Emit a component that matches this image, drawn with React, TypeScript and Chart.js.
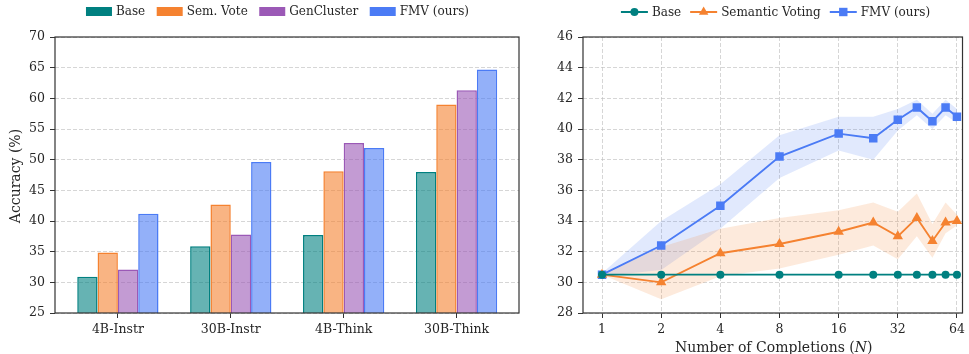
import React, { useEffect, useRef } from 'react';
import { Chart, registerables } from 'chart.js';

Chart.register(...registerables);

// ---------- data: left (bar) chart ----------
const groups = ['4B-Instr', '30B-Instr', '4B-Think', '30B-Think'];
const barBase = [30.9, 35.9, 37.7, 48.0];
const barSemVote = [34.85, 42.7, 48.1, 59.0];
const barGenCluster = [32.1, 37.8, 52.7, 61.3];
const barFMV = [41.2, 49.6, 51.9, 64.7];
const barTicks = [25, 30, 35, 40, 45, 50, 55, 60, 65, 70];

// ---------- data: right (line) chart ----------
const completions = [1, 2, 4, 8, 16, 24, 32, 40, 48, 56, 64];
const nTicks = [1, 2, 4, 8, 16, 32, 64];
const lineTicks = [28, 30, 32, 34, 36, 38, 40, 42, 44, 46];
const lineBase = [30.5, 30.5, 30.5, 30.5, 30.5, 30.5, 30.5, 30.5, 30.5, 30.5, 30.5];
const lineSemantic = [30.5, 30.0, 31.9, 32.5, 33.3, 33.9, 33.0, 34.2, 32.7, 33.9, 34.0];
const semanticUpper = [30.5, 32.3, 33.5, 34.2, 34.7, 35.2, 34.6, 35.8, 33.8, 35.2, 34.4];
const semanticLower = [30.5, 28.9, 30.4, 30.9, 31.8, 32.4, 31.5, 33.0, 31.6, 33.2, 33.7];
const lineFMV = [30.5, 32.4, 35.0, 38.2, 39.7, 39.4, 40.6, 41.4, 40.5, 41.4, 40.8];
const fmvUpper = [30.6, 34.0, 36.4, 39.6, 40.8, 40.8, 41.3, 41.9, 41.0, 41.9, 41.3];
const fmvLower = [30.4, 30.8, 33.5, 36.8, 38.6, 38.0, 39.9, 40.9, 40.0, 40.9, 40.4];

// ---------- styles ----------
const FONT = "'DejaVu Serif', serif";
const TEXT = '#262626';
const AXIS = '#333333';
const GRID = 'rgba(190,190,190,0.8)';
const TEAL = '#008080';
const ORANGE = '#F58230';
const PURPLE = '#9B59B6';
const BLUE = '#4B7BF5';
const TICK_SIZE = 12.5;

function rgba(hex: string, a: number) {
  const n = parseInt(hex.slice(1), 16);
  return `rgba(${(n >> 16) & 255},${(n >> 8) & 255},${n & 255},${a})`;
}

const framePlugin = {
  id: 'frame',
  afterDatasetsDraw(chart: any) {
    const { ctx, chartArea: a } = chart;
    ctx.save();
    ctx.strokeStyle = AXIS;
    ctx.lineWidth = 1.2;
    ctx.strokeRect(a.left, a.top, a.right - a.left, a.bottom - a.top);
    ctx.restore();
  },
};

function drawMarker(ctx: CanvasRenderingContext2D, kind: string, x: number, y: number, color: string) {
  ctx.fillStyle = color;
  ctx.beginPath();
  if (kind === 'circle') {
    ctx.arc(x, y, 4, 0, Math.PI * 2);
  } else if (kind === 'triangle') {
    const r = 5.5;
    ctx.moveTo(x, y - r);
    ctx.lineTo(x + r * 0.866, y + r * 0.5);
    ctx.lineTo(x - r * 0.866, y + r * 0.5);
    ctx.closePath();
  } else {
    ctx.rect(x - 4.2, y - 4.2, 8.4, 8.4);
  }
  ctx.fill();
}

const dashedGrid = {
  color: GRID,
  lineWidth: 0.8,
  tickLength: 5,
  tickColor: AXIS,
  tickWidth: 1,
  tickBorderDash: [],
};
const dashedBorder = { display: false, dash: [4, 2] };

function BarChart() {
  const ref = useRef<HTMLCanvasElement>(null);
  useEffect(() => {
    const legendPlugin = {
      id: 'barLegend',
      afterDraw(chart: any) {
        const ctx = chart.ctx as CanvasRenderingContext2D;
        const items = [
          ['Base', TEAL],
          ['Sem. Vote', ORANGE],
          ['GenCluster', PURPLE],
          ['FMV (ours)', BLUE],
        ];
        ctx.save();
        ctx.font = `12px ${FONT}`;
        const box = 26, gap = 4, sep = 11.5;
        const widths = items.map(([t]) => ctx.measureText(t).width);
        const total = widths.reduce((s, w) => s + box + gap + w, 0) + sep * (items.length - 1);
        let x = 277.5 - total / 2;
        const cy = 11.5;
        items.forEach(([t, c], i) => {
          ctx.fillStyle = c;
          ctx.fillRect(x, cy - 4.5, box, 9);
          ctx.fillStyle = TEXT;
          ctx.textBaseline = 'middle';
          ctx.textAlign = 'left';
          ctx.fillText(t, x + box + gap, cy + 0.5);
          x += box + gap + widths[i] + sep;
        });
        // y-axis title
        ctx.translate(16, 176);
        ctx.rotate(-Math.PI / 2);
        ctx.font = `14px ${FONT}`;
        ctx.textAlign = 'center';
        ctx.textBaseline = 'middle';
        ctx.fillStyle = TEXT;
        ctx.fillText('Accuracy (%)', 0, 0);
        ctx.restore();
      },
    };

    const mk = (label: string, vals: number[], color: string) => ({
      label,
      data: vals.map((y, i) => ({ x: i, y })),
      backgroundColor: rgba(color, 0.6),
      borderColor: color,
      borderWidth: 1.5,
      borderSkipped: 'bottom',
      categoryPercentage: 0.72,
      barPercentage: 1,
    });

    const chart = new Chart(ref.current as HTMLCanvasElement, {
      type: 'bar',
      data: {
        datasets: [
          mk('Base', barBase, TEAL),
          mk('Sem. Vote', barSemVote, ORANGE),
          mk('GenCluster', barGenCluster, PURPLE),
          mk('FMV (ours)', barFMV, BLUE),
        ] as any,
      },
      options: {
        animation: false,
        responsive: false,
        events: [],
        layout: { padding: { top: 37, right: 21, left: 0, bottom: 0 } },
        plugins: { legend: { display: false }, tooltip: { enabled: false } },
        scales: {
          x: {
            type: 'linear',
            min: -0.557,
            max: 3.553,
            offset: false,
            afterBuildTicks: (s: any) => {
              s.ticks = groups.map((_, i) => ({ value: i }));
            },
            afterFit: (s: any) => {
              s.height = 41;
            },
            ticks: {
              autoSkip: false,
              maxRotation: 0,
              padding: 4,
              color: TEXT,
              font: { family: FONT, size: TICK_SIZE },
              callback: (v: any) => groups[v as number] ?? '',
            },
            grid: {
              offset: false,
              drawOnChartArea: false,
              drawTicks: true,
              tickLength: 5,
              tickColor: AXIS,
              tickWidth: 1,
            },
            border: { display: false },
          },
          y: {
            min: 25,
            max: 70,
            afterBuildTicks: (s: any) => {
              s.ticks = barTicks.map((v) => ({ value: v }));
            },
            afterFit: (s: any) => {
              s.width = 55;
            },
            ticks: { padding: 5, color: TEXT, font: { family: FONT, size: TICK_SIZE } },
            grid: dashedGrid as any,
            border: dashedBorder,
          },
        },
      } as any,
      plugins: [framePlugin, legendPlugin],
    });
    return () => chart.destroy();
  }, []);
  return (
    <canvas
      ref={ref}
      width={540}
      height={354}
      style={{ position: 'absolute', left: 0, top: 0, width: 540, height: 354 }}
    />
  );
}

function LineChart() {
  const ref = useRef<HTMLCanvasElement>(null);
  useEffect(() => {
    const extrasPlugin = {
      id: 'lineExtras',
      afterDraw(chart: any) {
        const ctx = chart.ctx as CanvasRenderingContext2D;
        ctx.save();
        // legend
        const items: [string, string, string][] = [
          ['Base', TEAL, 'circle'],
          ['Semantic Voting', ORANGE, 'triangle'],
          ['FMV (ours)', BLUE, 'rect'],
        ];
        ctx.font = `12px ${FONT}`;
        const seg = 27, gap = 4, sep = 9;
        const widths = items.map(([t]) => ctx.measureText(t).width);
        const total = widths.reduce((s, w) => s + seg + gap + w, 0) + sep * (items.length - 1);
        let x = 235.5 - total / 2;
        const cy = 12;
        items.forEach(([t, c, m], i) => {
          ctx.strokeStyle = c;
          ctx.lineWidth = 2;
          ctx.beginPath();
          ctx.moveTo(x, cy);
          ctx.lineTo(x + seg, cy);
          ctx.stroke();
          drawMarker(ctx, m, x + seg / 2, cy, c);
          ctx.fillStyle = TEXT;
          ctx.textBaseline = 'middle';
          ctx.textAlign = 'left';
          ctx.fillText(t, x + seg + gap, cy + 0.5);
          x += seg + gap + widths[i] + sep;
        });
        // x-axis title with italic N
        const a = chart.chartArea;
        const cx = (a.left + a.right) / 2 + 1;
        const p1 = 'Number of Completions (';
        const p2 = 'N';
        const p3 = ')';
        ctx.font = `14px ${FONT}`;
        const w1 = ctx.measureText(p1).width;
        const w3 = ctx.measureText(p3).width;
        ctx.font = `italic 14px ${FONT}`;
        const w2 = ctx.measureText(p2).width;
        let tx = cx - (w1 + w2 + w3) / 2;
        const ty = 352;
        ctx.textBaseline = 'alphabetic';
        ctx.fillStyle = TEXT;
        ctx.font = `14px ${FONT}`;
        ctx.fillText(p1, tx, ty);
        tx += w1;
        ctx.font = `italic 14px ${FONT}`;
        ctx.fillText(p2, tx, ty);
        tx += w2;
        ctx.font = `14px ${FONT}`;
        ctx.fillText(p3, tx, ty);
        ctx.restore();
      },
    };

    const pts = (vals: number[]) => vals.map((y, i) => ({ x: completions[i], y }));
    const band = (vals: number[], color: string, fill: any) => ({
      label: '',
      data: pts(vals),
      borderWidth: 0,
      borderColor: 'rgba(0,0,0,0)',
      backgroundColor: color,
      pointRadius: 0,
      fill,
      order: 5,
    });
    const line = (label: string, vals: number[], color: string, style: string, r: number) => ({
      label,
      data: pts(vals),
      borderColor: color,
      backgroundColor: color,
      borderWidth: 1.9,
      pointStyle: style,
      pointRadius: r,
      pointBorderWidth: 0,
      pointBackgroundColor: color,
      fill: false,
      order: 0,
    });

    const chart = new Chart(ref.current as HTMLCanvasElement, {
      type: 'line',
      data: {
        datasets: [
          line('Base', lineBase, TEAL, 'circle', 4),
          line('Semantic Voting', lineSemantic, ORANGE, 'triangle', 6),
          line('FMV (ours)', lineFMV, BLUE, 'rect', 6),
          band(semanticUpper, 'rgba(0,0,0,0)', false),
          band(semanticLower, rgba(ORANGE, 0.17), '-1'),
          band(fmvUpper, 'rgba(0,0,0,0)', false),
          band(fmvLower, rgba(BLUE, 0.17), '-1'),
        ] as any,
      },
      options: {
        animation: false,
        responsive: false,
        events: [],
        layout: { padding: { top: 37, right: 1, left: 0, bottom: 0 } },
        plugins: { legend: { display: false }, tooltip: { enabled: false } },
        scales: {
          x: {
            type: 'logarithmic',
            min: 0.8,
            max: 68.3,
            afterBuildTicks: (s: any) => {
              s.ticks = nTicks.map((v) => ({ value: v }));
            },
            afterFit: (s: any) => {
              s.height = 41;
            },
            ticks: {
              autoSkip: false,
              maxRotation: 0,
              padding: 4,
              color: TEXT,
              font: { family: FONT, size: TICK_SIZE },
              callback: (v: any) => String(v),
            },
            grid: dashedGrid as any,
            border: dashedBorder,
          },
          y: {
            min: 28,
            max: 46,
            afterBuildTicks: (s: any) => {
              s.ticks = lineTicks.map((v) => ({ value: v }));
            },
            afterFit: (s: any) => {
              s.width = 43;
            },
            ticks: { padding: 5, color: TEXT, font: { family: FONT, size: TICK_SIZE } },
            grid: dashedGrid as any,
            border: dashedBorder,
          },
        },
      } as any,
      plugins: [framePlugin, extrasPlugin],
    });
    return () => chart.destroy();
  }, []);
  return (
    <canvas
      ref={ref}
      width={429}
      height={354}
      style={{ position: 'absolute', left: 540, top: 0, width: 429, height: 354 }}
    />
  );
}

export default function App() {
  return (
    <div
      style={{
        position: 'fixed',
        left: 0,
        top: 0,
        width: 969,
        height: 354,
        background: '#ffffff',
        overflow: 'hidden',
      }}
    >
      <BarChart />
      <LineChart />
    </div>
  );
}
